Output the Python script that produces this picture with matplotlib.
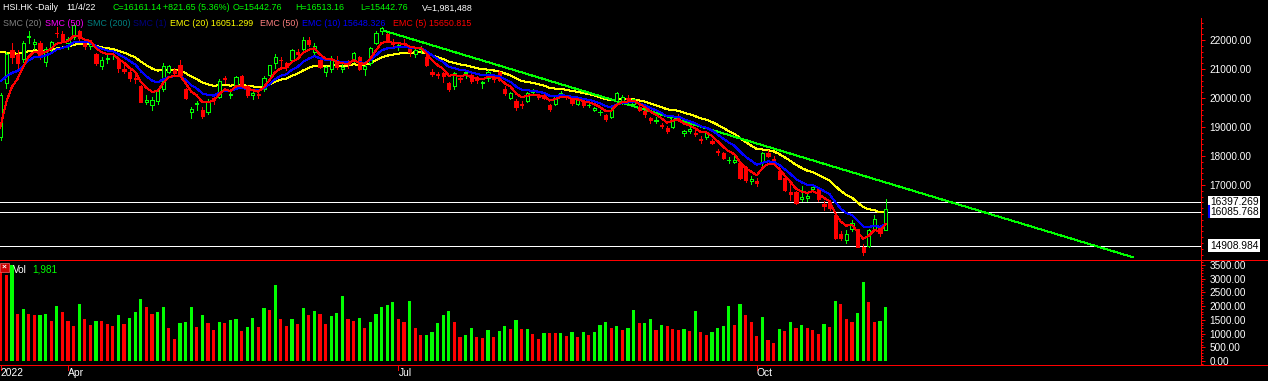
"""HSI.HK daily candlestick chart with EMAs, trendline, levels and volume
panel, styled after a black-background trading terminal."""

import matplotlib

matplotlib.use("Agg")

import matplotlib.pyplot as plt
import matplotlib.transforms as mtransforms
from matplotlib.lines import Line2D
from matplotlib.patches import Rectangle
from matplotlib.ticker import FixedLocator, MultipleLocator, FormatStrFormatter
import numpy as np

# ---------------------------------------------------------------- data
# one bar per HK trading day, 16 Mar 2022 .. 4 Nov 2022
opens = [
    18650, 20500, 21650, 21500, 21350, 22100, 21850, 21900, 21250, 21750,
    22250, 22200, 21900, 22100, 22300, 21950, 21800, 21500, 21100, 21350,
    21500, 21300, 21000, 20900, 20700, 20400, 19850, 19750, 19900, 20300,
    20900, 20950, 21150, 20300, 19500, 19800, 19600, 19500, 20000, 20050,
    20700, 20100, 20350, 20750, 20400, 20100, 20150, 20300, 20800, 21200,
    21300, 21200, 21300, 21600, 21700, 22000, 21600, 21300, 20900, 21000,
    21300, 21000, 21200, 21300, 21400, 21000, 21200, 21900, 22300, 22200,
    21900, 21800, 21900, 21700, 21500, 21700, 21400, 20900, 20800, 20850,
    20500, 20400, 20700, 20850, 20800, 20700, 20500, 20700, 20700, 20900,
    20300, 20000, 19900, 19800, 19900, 20200, 20100, 20100, 19750, 19800,
    20150, 20050, 19950, 19800, 19850, 19750, 19600, 19500, 19400, 19350,
    19900, 19850, 20000, 19800, 19700, 19550, 19300, 19200, 19050, 18950,
    19000, 19350, 18800, 18850, 18800, 18600, 18650, 18500, 18150, 18100,
    17850, 17800, 17760, 17620, 17150, 17150, 17800, 18120, 17900, 17480,
    17240, 16770, 16770, 16520, 16550, 16850, 16850, 16345, 16400, 15960,
    15320, 15100, 15470, 15480, 14850, 14900, 15500, 15528, 15442.76,
]
highs = [
    20171, 21600, 21900, 21650, 21950, 22300, 22050, 21950, 21750, 21950,
    22450, 22300, 22100, 22550, 22350, 22000, 21950, 21550, 21400, 21500,
    21600, 21350, 21200, 21000, 20800, 20450, 20100, 20050, 20350, 21200,
    21150, 21050, 21300, 20350, 19700, 19900, 19700, 19950, 20100, 20650,
    20750, 20200, 20750, 20800, 20450, 20250, 20300, 20750, 21150, 21500,
    21400, 21250, 21700, 21700, 22100, 22100, 21900, 21350, 21100, 21450,
    21450, 21200, 21300, 21600, 21450, 21200, 21750, 22300, 22450, 22250,
    22050, 21900, 22050, 21750, 21700, 21800, 21450, 21000, 20900, 20900,
    20550, 20900, 20800, 20950, 20850, 20750, 20600, 20950, 20800, 20950,
    20400, 20200, 19950, 19900, 20200, 20300, 20150, 20150, 19800, 20100,
    20250, 20100, 20000, 19950, 19900, 19850, 19700, 19600, 19450, 19650,
    20200, 20100, 20100, 19950, 19750, 19600, 19350, 19350, 19150, 19050,
    19400, 19450, 18900, 19000, 18900, 18700, 18850, 18600, 18250, 18150,
    17950, 18000, 17800, 17650, 17300, 17250, 18150, 18200, 18000, 17500,
    17250, 17110, 16800, 16950, 16750, 16950, 16900, 16450, 16450, 16000,
    15400, 15450, 15800, 15500, 14950, 15500, 15960, 15600, 16513.16,
]
lows = [
    18550, 20350, 21200, 21000, 21250, 21900, 21700, 21350, 21100, 21550,
    22100, 21950, 21700, 22050, 22000, 21700, 21700, 21150, 21000, 21200,
    21350, 20900, 20850, 20600, 20500, 19850, 19800, 19600, 19800, 20250,
    20850, 20800, 20750, 19950, 19300, 19600, 19300, 19450, 19800, 20000,
    20500, 20000, 20300, 20400, 20050, 19950, 20000, 20250, 20750, 21050,
    21000, 20950, 21250, 21400, 21650, 21800, 21500, 21050, 20750, 20900,
    21000, 20900, 21050, 21250, 20950, 20800, 21150, 21850, 22200, 21950,
    21750, 21650, 21750, 21450, 21400, 21550, 21100, 20750, 20700, 20550,
    20250, 20300, 20550, 20700, 20500, 20500, 20350, 20600, 20550, 20600,
    20100, 19950, 19600, 19650, 19850, 20100, 19950, 19950, 19550, 19750,
    20050, 19950, 19750, 19750, 19700, 19700, 19550, 19400, 19200, 19300,
    19850, 19800, 19900, 19700, 19550, 19350, 19150, 19150, 18950, 18800,
    18950, 19200, 18700, 18800, 18700, 18450, 18600, 18400, 18050, 17900,
    17750, 17750, 17200, 17100, 17050, 16950, 17700, 17950, 17700, 17200,
    16800, 16480, 16350, 16450, 16450, 16750, 16450, 16150, 16150, 15150,
    15100, 15000, 15420, 14850, 14597, 14850, 15450, 15250, 15442.76,
]
closes = [
    20087, 21501, 21412, 21221, 21889, 22154, 21946, 21404, 21684, 21927,
    22232, 21996, 22039, 22502, 22080, 21808, 21872, 21208, 21320, 21374,
    21518, 21027, 20944, 20682, 20638, 19869, 19934, 19946, 20276, 21089,
    21101, 20870, 20794, 20001, 19633, 19824, 19380, 19898, 19950, 20602,
    20644, 20121, 20717, 20470, 20112, 20171, 20116, 20697, 21123, 21415,
    21294, 21082, 21653, 21531, 22014, 21869, 21806, 21067, 21068, 21308,
    21075, 21075, 21163, 21559, 21008, 21120, 21719, 22229, 22418, 21996,
    21860, 21830, 21853, 21586, 21643, 21726, 21124, 20844, 20797, 20751,
    20297, 20846, 20661, 20890, 20574, 20609, 20562, 20905, 20670, 20622,
    20157, 20165, 19689, 19767, 20174, 20201, 20045, 20003, 19610, 20082,
    20175, 20040, 19830, 19922, 19763, 19773, 19656, 19503, 19268, 19596,
    20170, 20023, 19949, 19954, 19597, 19452, 19225, 19202, 19044, 18854,
    19362, 19326, 18847, 18930, 18762, 18566, 18781, 18444, 18147, 17933,
    17855, 17860, 17250, 17165, 17222, 17079, 18088, 18012, 17740, 17217,
    16832, 16701, 16389, 16588, 16613, 16915, 16511, 16280, 16211, 15180,
    15165, 15317, 15700, 14863, 14687, 15455, 15827, 15339, 16161.14,
]
# volume in thousands, and the colour flag the terminal gave each bar
volumes = [
    3245, 3147, 3510, 1726, 1908, 1726, 1689, 1689, 1726, 1458,
    2017, 1798, 1458, 1288, 2089, 1543, 1324, 1458, 1458, 1336,
    1288, 1689, 1360, 1579, 1798, 2271, 1980, 1726, 1798, 1980,
    1214, 813, 1396, 1433, 1980, 1251, 1689, 1396, 1141, 1433,
    1385, 1495, 1531, 1094, 1240, 1568, 1240, 1932, 1860, 2771,
    1531, 1276, 1531, 1349, 1932, 1677, 1823, 1714, 1349, 1641,
    1750, 2370, 1531, 1458, 1568, 1203, 1422, 1714, 1969, 2042,
    2151, 1531, 1422, 2188, 1203, 948, 948, 1057, 1385, 1677,
    1823, 1422, 875, 948, 1203, 875, 839, 1130, 875, 1094,
    1276, 1167, 1495, 1167, 1167, 984, 802, 1021, 1021, 1021,
    1021, 912, 1057, 875, 1057, 948, 1057, 1313, 1422, 1203,
    1276, 1130, 1203, 1860, 1385, 1385, 1531, 1130, 1313, 1276,
    1167, 1130, 1167, 1094, 1823, 1057, 948, 1057, 1203, 1276,
    2005, 1313, 2078, 1677, 1422, 912, 1604, 766, 656, 1167,
    1094, 1422, 1203, 1313, 1203, 1130, 984, 1349, 1240, 2188,
    2078, 1531, 1422, 1750, 2880, 2151, 1422, 1458, 1981,
]
vol_up = [
    0, 0, 1, 0, 1, 0, 0, 1, 1, 0, 1, 0, 0, 0, 1, 0, 0, 1, 0, 0,
    0, 1, 0, 1, 1, 1, 0, 0, 1, 1, 0, 0, 1, 1, 1, 0, 1, 0, 0, 1,
    0, 1, 1, 0, 1, 1, 0, 1, 0, 1, 0, 0, 1, 0, 1, 0, 1, 0, 0, 1,
    1, 1, 0, 0, 1, 0, 1, 1, 1, 1, 1, 0, 0, 1, 0, 0, 1, 1, 1, 1,
    1, 0, 0, 1, 1, 0, 0, 1, 0, 1, 1, 0, 1, 0, 1, 0, 0, 1, 0, 0,
    1, 0, 1, 0, 1, 0, 1, 1, 1, 0, 1, 0, 1, 1, 0, 1, 1, 0, 1, 0,
    0, 0, 1, 0, 1, 0, 0, 1, 1, 1, 1, 0, 1, 0, 0, 0, 1, 0, 0, 1,
    0, 1, 0, 1, 0, 0, 0, 1, 0, 1, 0, 0, 0, 1, 1, 0, 0, 1, 1,
]

# EMA values on the bar before the first one shown
ema_seed_5 = 18550
ema_seed_10 = 20690
ema_seed_20 = 21732

month_names = ["2022", "Apr", "Jul", "Oct"]
month_first_bar = [0, 12, 71, 135]

level_values = [16397.269, 16085.768, 14908.984]
trend_bars = [68, 202.2]
trend_prices = [22345, 14507]

# ---------------------------------------------------------------- style
W, H = 1268, 387
BLACK = "#000000"
RED = "#ff0000"
GREEN = "#00ff00"
WHITE = "#ffffff"
PX = 0.72             # one pixel in points at dpi 100
plt.rcParams["font.family"] = ["Liberation Sans", "DejaVu Sans"]

BAR_PX = 5.6          # horizontal pixels per trading day
X0_PX = 0.8           # pixel x of bar 0
AXIS_PX = 1201        # pixel x of the red price axis


def fx(px):
    return px / W


def fy(py):
    return 1 - py / H


def ema(values, span, seed):
    alpha = 2.0 / (span + 1)
    out = [seed]
    for v in values:
        out.append(out[-1] + alpha * (v - out[-1]))
    return np.array(out)


fig = plt.figure(figsize=(W / 100, H / 100), dpi=100)
fig.patch.set_facecolor(BLACK)

ax = fig.add_axes([0, fy(260), fx(AXIS_PX), (260 - 18) / H])
axv = fig.add_axes([0, fy(365), fx(AXIS_PX), (365 - 260) / H])

x_lo = -X0_PX / BAR_PX
x_hi = (AXIS_PX - X0_PX) / BAR_PX
for a in (ax, axv):
    a.set_facecolor(BLACK)
    a.set_xlim(x_lo, x_hi)
    for side in ("left", "top", "bottom"):
        a.spines[side].set_visible(False)
    a.spines["right"].set_color(RED)
    a.spines["right"].set_linewidth(PX)
    a.set_xticks([])
    a.yaxis.tick_right()
    a.tick_params(axis="y", which="major", colors=RED, labelcolor=WHITE,
                  length=3.2, width=PX, pad=3.0, labelsize=7.2)
    a.tick_params(axis="y", which="minor", colors=RED, length=1.6, width=PX)
    a.yaxis.set_major_formatter(FormatStrFormatter("%.2f"))

# ---------------------------------------------------------------- price
o = np.array(opens, dtype=float)
h = np.array(highs, dtype=float)
l = np.array(lows, dtype=float)
c = np.array(closes, dtype=float)
x = np.arange(len(c))
up = c >= o
body_lo = np.minimum(o, c)
body_hi = np.maximum(o, c)
body_h = np.maximum(body_hi - body_lo, 25)
cols = np.where(up, GREEN, RED)

ax.set_ylim(14413.8, 22758.6)
ax.yaxis.set_major_locator(FixedLocator(np.arange(17000, 22001, 1000)))
ax.yaxis.set_minor_locator(MultipleLocator(200))

for lvl in level_values:
    ax.axhline(lvl, color=WHITE, lw=PX, zorder=1, antialiased=False)

xt = np.arange(-1, len(c))
ax.plot(xt, ema(c, 20, ema_seed_20), color="#ffff00", lw=PX, zorder=2, antialiased=False)
ax.plot(trend_bars, trend_prices, color=GREEN, lw=PX, zorder=2, antialiased=False)

ax.vlines(x, body_hi, h, colors=cols, lw=PX, zorder=3, antialiased=False)
ax.vlines(x, l, body_lo, colors=cols, lw=PX, zorder=3, antialiased=False)
ax.bar(x[~up], body_h[~up], bottom=body_lo[~up], width=0.6,
       color=RED, edgecolor=RED, lw=PX, zorder=3, antialiased=False)
ax.bar(x[up], body_h[up], bottom=body_lo[up], width=0.6,
       facecolor=BLACK, edgecolor=GREEN, lw=PX, zorder=3, antialiased=False)

ax.plot(xt, ema(c, 10, ema_seed_10), color="#0000ff", lw=PX, zorder=4, antialiased=False)
ax.plot(xt, ema(c, 5, ema_seed_5), color=RED, lw=PX, zorder=4, antialiased=False)

# level labels in white boxes right of the axis
lbl_tr = mtransforms.blended_transform_factory(ax.transAxes, ax.transData)
for lvl in level_values:
    ax.text((AXIS_PX + 9) / AXIS_PX, lvl, f"{lvl:.3f}", transform=lbl_tr,
            ha="left", va="center", fontsize=7.4, color=BLACK, clip_on=False,
            zorder=6, bbox=dict(boxstyle="square,pad=0.18", fc=WHITE, ec="none"))
ax.plot([(AXIS_PX + 7.5) / AXIS_PX] * 2, [level_values[1] - 190, level_values[1] + 190],
        transform=lbl_tr, color="#0000ff", lw=1.5, clip_on=False, zorder=7)

# ---------------------------------------------------------------- volume
vc = np.where(np.array(vol_up) == 1, GREEN, RED)
axv.bar(x, volumes, width=0.54, color=vc, lw=0, antialiased=False)
axv.set_ylim(-146, 3682)
axv.yaxis.set_major_locator(FixedLocator(np.arange(0, 3501, 500)))
axv.yaxis.set_minor_locator(MultipleLocator(100))

# ---------------------------------------------------------------- frame lines
for py in (260, 364.5):
    fig.add_artist(Line2D([0, 1], [fy(py)] * 2, color=RED, lw=PX, zorder=10))
fig.add_artist(Rectangle((0, 0), 1, fy(381), facecolor=WHITE, edgecolor="none", zorder=10))

# month labels along the bottom
for name, b in zip(month_names, month_first_bar):
    px = X0_PX + b * BAR_PX
    fig.text(fx(px), fy(373), name, color=WHITE, fontsize=7.4, ha="left", va="center")
    fig.add_artist(Line2D([fx(px)] * 2, [fy(365), fy(370)], color=RED, lw=PX))

# ---------------------------------------------------------------- header
hdr1 = [
    (3, "HSI.HK -Daily", WHITE), (66, "11/4/22", WHITE),
    (112, "C=16161.14", GREEN), (163, "+821.65 (5.36%)", GREEN),
    (233, "O=15442.76", GREEN), (295, "H=16513.16", GREEN),
    (360, "L=15442.76", GREEN), (422, "V=1,981,488", WHITE),
]
hdr2 = [
    (3, "SMC (20)", "#808080"), (45, "SMC (50)", "#ff00ff"),
    (87, "SMC (200)", "#008080"), (133, "SMC (1)", "#000080"),
    (170, "EMC (20) 16051.299", "#ffff00"), (260, "EMC (50)", "#ff8080"),
    (302, "EMC (10) 15648.326", "#0000ff"), (393, "EMC (5) 15650.815", RED),
]
for row_y, items in ((8, hdr1), (23, hdr2)):
    for px, txt, col in items:
        fig.text(fx(px), fy(row_y), txt, color=col, fontsize=6.4,
                 ha="left", va="center", zorder=11)

# volume caption with the little close box
fig.add_artist(Rectangle((0, fy(272)), fx(9), 9 / H, facecolor="#cc0000",
                         edgecolor="#ff6060", lw=0.5, zorder=11))
fig.text(fx(4.5), fy(267.5), "×", color=WHITE, fontsize=6, ha="center",
         va="center", zorder=12, fontweight="bold")
fig.text(fx(13), fy(270), "Vol", color=WHITE, fontsize=7.2, ha="left", va="center")
fig.text(fx(32), fy(270), "1,981", color=GREEN, fontsize=7.2, ha="left", va="center")

fig.savefig("out.png", dpi=100, facecolor=BLACK)
plt.close(fig)
